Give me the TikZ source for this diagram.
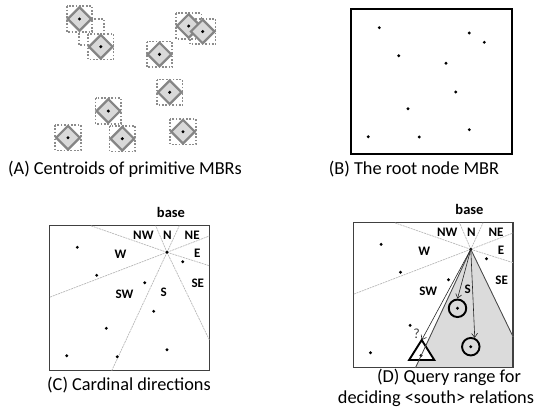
\documentclass[tikz,border=0pt]{standalone}
\usepackage{fontspec}
\setmainfont{Carlito}
\usetikzlibrary{arrows.meta}
\begin{document}
\begin{tikzpicture}[x=1pt,y=-1pt,
  mbrbox/.style={draw=black!45, line width=1.7pt, dash pattern=on 1.7pt off 1.7pt},
  centroidshape/.style={fill=black!15, draw=black!48, line width=2.2pt, line join=miter},
  dot/.style={fill=black},
  rootframe/.style={draw=black, line width=2.3pt},
  panelframe/.style={draw=black!75, line width=1.3pt},
  sector/.style={draw=black!28, line width=0.7pt, dash pattern=on 2pt off 0.8pt},
  dirlabel/.style={font=\fontsize{13}{15}\selectfont\bfseries, inner sep=0pt},
  baselabel/.style={font=\fontsize{14.5}{17}\selectfont\bfseries, inner sep=0pt},
  caption/.style={font=\fontsize{18.3}{22}\selectfont, inner sep=0pt},
  queryfill/.style={fill=black!14},
  queryedge/.style={draw=black!72, line width=0.8pt},
  candidate/.style={circle, draw=black, line width=1.9pt, minimum size=17.5pt, inner sep=0pt},
  qarrow/.style={draw=black!85, line width=0.6pt, -{Straight Barb[length=4pt,width=6pt]}},
  cardinal/.pic={
    \coordinate (-base) at (0,0);
    \draw[panelframe] (-117.5,-26.6) rectangle (42.3,118.4);
    \foreach \e in {(-11.3,-26.6),(12.3,-26.6),(-76.3,-26.6),(42.3,-16.3),
                    (42.3,13.4),(-117.5,45),(-55.3,118.4),(42.3,87.5)}
      \draw[sector] (-base) -- \e;
    \foreach \p in {(-89.7,-5),(-70.3,23),(-22.3,30.4),(15.7,9.4),(-13.3,59),
                    (-60.7,76),(-100.3,103.4),(-49.7,104.4),(0,97.4),(0,0)}
      \fill[dot] \p circle (1.6pt);
    \node[dirlabel] (-nw) at (-23.6,-17.2) {NW};
    \node[dirlabel] (-n)  at (0.5,-17.2)   {N};
    \node[dirlabel] (-ne) at (25.2,-17.2)  {NE};
    \node[dirlabel] (-w)  at (-46.5,1.7)   {W};
    \node[dirlabel] (-e)  at (30.3,0.5)    {E};
    \node[dirlabel] (-se) at (30.8,31.3)   {SE};
    \node[dirlabel] (-sw) at (-42.5,41.5)  {SW};
    \node[dirlabel] (-s)  at (-3.2,40.2)   {S};
  }
]
\useasboundingbox (0,0) rectangle (544,418);

% (A) primitive MBRs with their centroids
\foreach \c in {(79.5,19),(91.5,32),(100.8,46.7),(188.7,26),(202.7,31.5),(159.5,54.4),
                (169.7,92.3),(108.3,111),(68,137.7),(122.3,138.7),(183,131.7)}
  \draw[mbrbox] \c ++(-12.8,-12.8) rectangle ++(25.6,25.6);
\foreach \c in {(79.5,19),(100.8,46.7),(188.7,26),(202.7,31.5),(159.5,54.4),
                (169.7,92.3),(108.3,111),(68,137.7),(122.3,138.7),(183,131.7)}{
  \draw[centroidshape] \c ++(0,-11.8) -- ++(11.8,11.8) -- ++(-11.8,11.8) -- ++(-11.8,-11.8) -- cycle;
  \fill[dot] \c circle (1.7pt);
}
\node[caption] (capA) at (125,169.5) {(A) Centroids of primitive MBRs};

% (B) root node MBR
\draw[rootframe] (351,9) rectangle (511.7,154.3);
\foreach \p in {(379.3,27.7),(469.3,33),(484.3,42.3),(398.7,55.7),(446,63.3),
                (455.7,92),(408,108.7),(469.3,129.7),(368.3,136.7),(419.3,137)}
  \fill[dot] \p circle (1.6pt);
\node[caption] (capB) at (414,169.5) {(B) The root node MBR};

% (C) cardinal directions around the base object
\pic (cardC) at (167,252.3) {cardinal};
\node[baselabel] (baseC) at (171,212.5) {base};
\node[caption] (capC) at (129,385) {(C) Cardinal directions};

% (D) query range of the <south> relation
\coordinate (qse) at (513.1,336.8);
\coordinate (qbr) at (513.1,367.7);
\coordinate (qsw) at (415.5,367.7);
\fill[queryfill] (470.8,249.3) -- (qse) -- (qbr) -- (qsw) -- cycle;
\pic (cardD) at (470.8,249.3) {cardinal};
\node[baselabel] (baseD) at (469.5,209.5) {base};
\coordinate (triapex) at (421.7,340);
\filldraw[fill=white, draw=black, line width=1.9pt, line join=miter]
  (triapex) -- (434.3,360) -- (409.1,360) -- cycle;
\fill[dot] (421,355.4) circle (1.6pt);
\draw[queryedge] (cardD-base) -- (qse);
\draw[queryedge] (cardD-base) -- (qsw);
\node[candidate] (c1) at (457.5,308.3) {};
\node[candidate] (c2) at (470.8,346.7) {};
\draw[qarrow] (cardD-base) -- (c1.north);
\draw[qarrow] (cardD-base) -- (c2.66);
\draw[qarrow] (cardD-base) -- (triapex);
\node[font=\fontsize{14}{16}\selectfont, text=black!75, inner sep=0pt] (qmark) at (416.5,333.5) {?};
\node[caption] (capD1) at (449,377.5) {(D) Query range for};
\node[caption] (capD2) at (436,398.5) {deciding <south> relations};
\end{tikzpicture}
\end{document}
